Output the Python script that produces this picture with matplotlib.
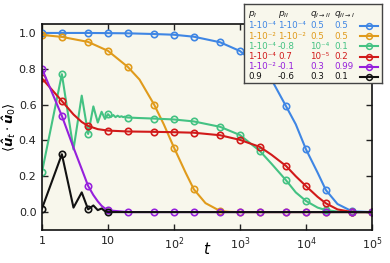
import numpy as np
import matplotlib
matplotlib.use("Agg")
import matplotlib.pyplot as plt
from matplotlib.ticker import FixedLocator, FuncFormatter, NullLocator

# values
marks = [1, 2, 5, 10, 20, 50, 100, 200, 500, 1000, 2000, 5000, 1e4, 2e4, 5e4, 1e5]

t_blue = [1, 2, 5, 10, 20, 50, 100, 200, 500, 1000, 2000, 3000, 5000, 7000,
          1e4, 1.5e4, 2e4, 3e4, 5e4, 1e5]
blue = [1.0, 1.0, 1.0, 0.999, 0.998, 0.994, 0.99, 0.979, 0.948, 0.899, 0.81,
        0.74, 0.59, 0.49, 0.35, 0.22, 0.123, 0.045, 0.004, 0.0]

t_orange = [1, 2, 5, 10, 20, 30, 50, 70, 100, 150, 200, 300, 500, 700, 1000,
            2000, 5000, 1e4, 2e4, 5e4, 1e5]
orange = [0.989, 0.978, 0.95, 0.90, 0.81, 0.74, 0.60, 0.49, 0.36, 0.22, 0.127,
          0.05, 0.006, 0.001, 0, 0, 0, 0, 0, 0, 0]

t_green = list(range(1, 21)) + [30, 50, 100, 200, 500, 1000, 2000, 3000, 5000,
                                7000, 1e4, 1.5e4, 2e4, 3e4, 5e4, 1e5]
green = [0.224, 0.77, 0.35, 0.65, 0.436, 0.59, 0.50, 0.56, 0.52, 0.547,
         0.53, 0.542, 0.53, 0.538, 0.531, 0.535, 0.53, 0.533, 0.529, 0.528,
         0.525, 0.522, 0.517, 0.506, 0.476, 0.43, 0.341, 0.27, 0.177, 0.11,
         0.062, 0.025, 0.011, 0.003, 0.0, 0.0]

t_red = [1, 2, 3, 4, 5, 7, 10, 20, 50, 100, 200, 500, 1000, 2000, 3000, 5000,
         7000, 1e4, 1.5e4, 2e4, 3e4, 5e4, 1e5]
red = [0.746, 0.62, 0.545, 0.503, 0.481, 0.463, 0.455, 0.45, 0.448, 0.446,
       0.443, 0.429, 0.403, 0.364, 0.32, 0.257, 0.2, 0.145, 0.085, 0.049,
       0.015, 0.0, 0.0]

t_purple = list(range(1, 11)) + [20, 50, 100, 200, 500, 1000, 2000, 5000,
                                 1e4, 2e4, 5e4, 1e5]
purple = [0.80, 0.537, 0.36, 0.24, 0.146, 0.095, 0.06, 0.035, 0.02, 0.01,
          0, 0, 0, 0, 0, 0, 0, 0, 0, 0, 0, 0]

t_black = list(range(1, 11)) + [20, 50, 100, 200, 500, 1000, 2000, 5000,
                                1e4, 2e4, 5e4, 1e5]
black = [0.02, 0.323, 0.025, 0.11, 0.015, 0.037, 0.011, 0.02, 0.005, 0.0,
         0, 0, 0, 0, 0, 0, 0, 0, 0, 0, 0, 0]
black_marks = [1, 2, 5, 10]

# legend table
p_I = ["1-10⁻⁴", "1-10⁻²", "1-10⁻⁴", "1-10⁻⁴", "1-10⁻²", "0.9"]
p_II = ["1-10⁻⁴", "1-10⁻²", "-0.8", "0.7", "-0.1", "-0.6"]
q_12 = ["0.5", "0.5", "10⁻⁴", "10⁻⁵", "0.3", "0.3"]
q_21 = ["0.5", "0.5", "0.1", "0.2", "0.99", "0.1"]

colors = ["#3f86e4", "#e09b1c", "#44c283", "#d11a1a", "#9620dc", "#111111"]
bg = "#f8f7ec"

fig = plt.figure(figsize=(3.9, 2.63), dpi=100)
ax = fig.add_axes([42 / 390, 1 - 230 / 263, 330 / 390, 206 / 263])
ax.set_facecolor(bg)

series = [(t_blue, blue, marks), (t_orange, orange, marks), (t_green, green, marks),
          (t_red, red, marks), (t_purple, purple, marks), (t_black, black, black_marks)]
for (t, y, mk), c in zip(series, colors):
    t = np.array(t, dtype=float)
    ax.plot(t, y, color=c, lw=1.5, marker="o", ms=4.6, mfc="none", mew=1.2,
            markevery=list(np.isin(t, mk)))

ax.set_xscale("log")
ax.set_xlim(1, 1e5)
ax.set_ylim(-0.1, 1.05)
ax.xaxis.set_major_locator(FixedLocator([1, 10, 100, 1e3, 1e4, 1e5]))
ax.xaxis.set_minor_locator(NullLocator())


def fmt(v, pos):
    n = int(round(np.log10(v)))
    if n == 0:
        return "1"
    if n == 1:
        return "10"
    return "$10^{%d}$" % n


ax.xaxis.set_major_formatter(FuncFormatter(fmt))
ax.set_yticks([0.0, 0.2, 0.4, 0.6, 0.8, 1.0])
ax.tick_params(direction="in", top=True, right=True, labelsize=8, length=4,
               width=1, colors="#222222", pad=4)
for s in ax.spines.values():
    s.set_linewidth(1.2)
    s.set_color("#111111")
ax.set_xlabel("$t$", fontsize=11)
ax.xaxis.set_label_coords(0.5, -0.055)
ax.set_ylabel(r"$\langle \mathbfit{\hat{u}}_t \cdot \mathbfit{\hat{u}}_0 \rangle$",
              fontsize=9.5)
ax.yaxis.set_label_coords(-0.072, 0.5)

# legend box drawn as a small axes above the main one
lg = fig.add_axes([244 / 390, 1 - 83 / 263, 138 / 390, 79 / 263])
lg.set_facecolor(bg)
lg.set_xlim(0, 138)
lg.set_ylim(79, 0)
lg.set_xticks([])
lg.set_yticks([])
for s in lg.spines.values():
    s.set_linewidth(1.0)
    s.set_color("#444444")

cols_x = [4, 34, 66, 90]
heads = ["$p_I$", "$p_{II}$", r"$q_{I\to II}$", r"$q_{II\to I}$"]
for x, h in zip(cols_x, heads):
    lg.text(x, 10, h, fontsize=6.5, va="center", ha="left", color="#222222")
for i, c in enumerate(colors):
    yy = 22 + i * 10.2
    for x, col in zip(cols_x, [p_I, p_II, q_12, q_21]):
        lg.text(x, yy, col[i], fontsize=6.3, va="center", ha="left", color=c)
    lg.plot([116, 134], [yy, yy], color=c, lw=1.5)
    lg.plot([125], [yy], color=c, marker="o", ms=4.2, mfc="none", mew=1.1)

fig.savefig("out.png", dpi=100, facecolor="white")
